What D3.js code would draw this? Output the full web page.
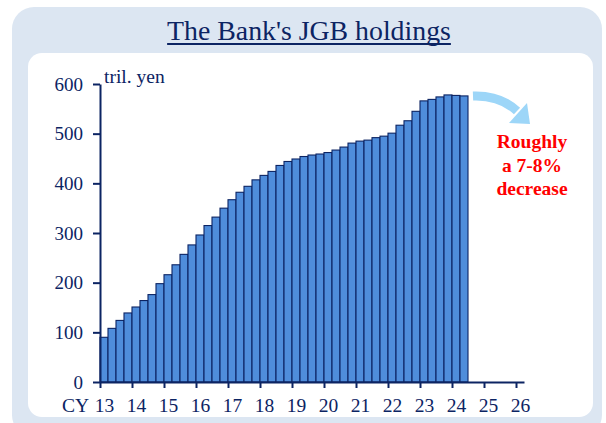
<!DOCTYPE html>
<html>
<head>
<meta charset="utf-8">
<script src="https://cdn.jsdelivr.net/npm/d3@7"></script>
<style>
  html, body { margin: 0; padding: 0; background: #ffffff; }
  svg { display: block; }
  text { font-family: "Liberation Serif", "Times New Roman", serif; }
</style>
</head>
<body>
<svg id="chart" width="606" height="423"></svg>
<script>
// ---- data ----
const title = "The Bank's JGB holdings";
const unitLabel = "tril. yen";
const xPrefix = "CY";
const yearTicks = [13, 14, 15, 16, 17, 18, 19, 20, 21, 22, 23, 24, 25, 26];
const yTicks = [0, 100, 200, 300, 400, 500, 600];
const startYear = 13;
// quarterly JGB holdings, CY2013 Q1 .. CY2024 Q2 (tril. yen)
const holdings = [
  90, 108, 124, 139,
  151, 164, 176, 198,
  216, 236, 257, 276,
  296, 315, 332, 350,
  367, 382, 394, 407,
  416, 424, 436, 444,
  449, 454, 457, 459,
  462, 467, 473, 481,
  485, 487, 492, 495,
  501, 517, 526, 545,
  566, 569, 574, 578,
  577, 576
];
const noteLines = ["Roughly", "a 7-8%", "decrease"];

// ---- drawing ----
const svg = d3.select("#chart");
const navy = "#0c2463";

// panels
svg.append("rect").attr("x", 12).attr("y", 7).attr("width", 590).attr("height", 430)
  .attr("rx", 22).attr("fill", "#dce6f2");
svg.append("rect").attr("x", 28).attr("y", 53).attr("width", 565).attr("height", 364)
  .attr("rx", 14).attr("fill", "#ffffff");

// title
const t = svg.append("text").attr("x", 309).attr("y", 40)
  .attr("text-anchor", "middle").attr("font-size", 27.8).attr("fill", navy)
  .text(title);
const tb = t.node().getBBox();
svg.append("line").attr("x1", tb.x).attr("x2", tb.x + tb.width)
  .attr("y1", 44).attr("y2", 44).attr("stroke", navy).attr("stroke-width", 2);

const x = d3.scaleLinear().domain([13, 26.25]).range([100, 524]);
const y = d3.scaleLinear().domain([0, 600]).range([382, 84]);

const bw = x(startYear + 0.25) - x(startYear);

// bars
svg.append("g").selectAll("rect").data(holdings).join("rect")
  .attr("x", (d, i) => x(startYear + i / 4))
  .attr("y", d => y(d))
  .attr("width", bw)
  .attr("height", d => y(0) - y(d))
  .attr("fill", "#4f8ddb")
  .attr("stroke", navy)
  .attr("stroke-width", 1.1);

// y axis
const gy = svg.append("g").attr("transform", "translate(100,0)")
  .call(d3.axisLeft(y).tickValues(yTicks).tickSize(7).tickSizeOuter(0).tickPadding(10).tickFormat(d3.format("d")));
gy.select(".domain").attr("stroke", navy).attr("stroke-width", 2);
gy.selectAll(".tick line").attr("stroke", navy).attr("stroke-width", 2);
gy.selectAll(".tick text").attr("font-size", 19).attr("fill", navy)
  .attr("font-family", "Liberation Serif, serif");

// x axis
const gx = svg.append("g").attr("transform", "translate(0,382)")
  .call(d3.axisBottom(x).tickValues(yearTicks).tickSize(6).tickSizeOuter(0).tickFormat(d3.format("d")));
gx.select(".domain").attr("stroke", navy).attr("stroke-width", 2);
gx.selectAll(".tick line").attr("stroke", navy).attr("stroke-width", 2);
gx.selectAll(".tick text").attr("font-size", 19.5).attr("fill", navy)
  .attr("font-family", "Liberation Serif, serif")
  .attr("x", 4).attr("y", 30).attr("dy", 0);

svg.append("text").attr("x", 62).attr("y", 412).attr("font-size", 19.5).attr("fill", navy)
  .text(xPrefix);

// unit label
svg.append("text").attr("x", 104).attr("y", 83).attr("font-size", 19.5).attr("fill", navy)
  .text(unitLabel);

// arrow
const arrowColor = "#9dd6f8";
svg.append("path").attr("d", "M473,96 Q500,95 517,111")
  .attr("fill", "none").attr("stroke", arrowColor).attr("stroke-width", 9);
svg.append("path").attr("d", "M509,123 L527,103 L530,124 Z").attr("fill", arrowColor);

// note
svg.append("text").attr("x", 532).attr("y", 148).attr("text-anchor", "middle")
  .attr("font-size", 19.5).attr("font-weight", "bold").attr("fill", "#ff0000")
  .selectAll("tspan").data(noteLines).join("tspan")
  .attr("x", 532).attr("dy", (d, i) => i === 0 ? 0 : 23.7).text(d => d);
</script>
</body>
</html>
